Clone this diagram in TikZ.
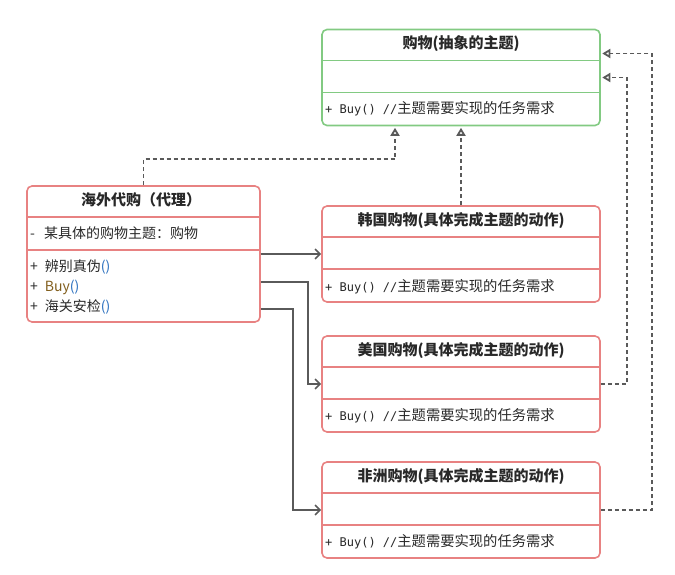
\documentclass[tikz,border=0pt]{standalone}
\usepackage{fontspec}
\usepackage{tikz}
\usetikzlibrary{arrows.meta}
\newfontfamily\cjk{Noto Sans CJK SC}
\newfontfamily\mono{DejaVu Sans Mono}
\definecolor{subjgreen}{RGB}{130,202,130}
\definecolor{realred}{RGB}{232,130,130}
\definecolor{linegray}{RGB}{90,90,90}
\definecolor{txt}{RGB}{40,40,40}
\definecolor{parblue}{RGB}{40,110,190}
\definecolor{buybrown}{RGB}{130,95,30}
\newcommand{\buyline}{{\mono\fontsize{12}{14}\selectfont + Buy() //}{\cjk\fontsize{14.3}{16}\selectfont 主题需要实现的任务需求}}

\begin{document}
\begin{tikzpicture}[x=1pt,y=-1pt,
    umlbox/.style={draw,line width=1.6pt,rounded corners=5pt,minimum width=278pt,minimum height=96pt,inner sep=0pt},
    titletext/.style={font=\cjk\bfseries\fontsize{15}{17}\selectfont,text=txt,inner sep=0pt},
    membertext/.style={anchor=west,font=\cjk\fontsize{14}{16}\selectfont,text=txt,inner sep=0pt},
    realize/.style={draw=linegray,line width=1.8pt,dash pattern=on 4pt off 3pt,shorten >=1.5pt,-{Triangle[open,length=8pt,width=9pt,line width=1.8pt]}},
    assoc/.style={draw=linegray,line width=1.6pt,-{Straight Barb[length=5pt,width=10pt,line width=1.6pt]}}]
	\useasboundingbox (0,0) rectangle (675,575);

	\node[umlbox,draw=subjgreen] (subject) at (461,77.5) {};
	\draw[subjgreen,line width=1.6pt] ([yshift=-32pt]subject.north west) -- ([yshift=-32pt]subject.north east);
	\draw[subjgreen,line width=1.6pt] ([yshift=-64pt]subject.north west) -- ([yshift=-64pt]subject.north east);
	\node[titletext] (subjtitle) at (461,44) {购物(抽象的主题)};
	\node[membertext] (subjbuy) at (325,109) {\buyline};

	\node[umlbox,draw=realred,minimum width=233pt,minimum height=136pt] (proxy) at (143.5,254) {};
	\draw[realred,line width=1.6pt] ([yshift=-32pt]proxy.north west) -- ([yshift=-32pt]proxy.north east);
	\draw[realred,line width=1.6pt] ([yshift=-65pt]proxy.north west) -- ([yshift=-65pt]proxy.north east);
	\node[titletext] (proxytitle) at (141,200) {海外代购（代理）};
	\node[membertext] (proxyattr) at (30,233) {-\hspace{9pt}某具体的购物主题：购物};
	\node[membertext] (proxycheck) at (30,267) {+\hspace{7pt}辨别真伪{\color{parblue}()}};
	\node[membertext] (proxybuy) at (30,287) {+\hspace{7pt}{\color{buybrown}Buy}{\color{parblue}()}};
	\node[membertext] (proxycustoms) at (30,307) {+\hspace{7pt}海关安检{\color{parblue}()}};

	\node[umlbox,draw=realred] (korea) at (461,254) {};
	\draw[realred,line width=1.6pt] ([yshift=-32pt]korea.north west) -- ([yshift=-32pt]korea.north east);
	\draw[realred,line width=1.6pt] ([yshift=-64pt]korea.north west) -- ([yshift=-64pt]korea.north east);
	\node[titletext] (koreatitle) at (461,220) {韩国购物(具体完成主题的动作)};
	\node[membertext] (koreabuy) at (325,287) {\buyline};

	\node[umlbox,draw=realred] (usa) at (461,384) {};
	\draw[realred,line width=1.6pt] ([yshift=-32pt]usa.north west) -- ([yshift=-32pt]usa.north east);
	\draw[realred,line width=1.6pt] ([yshift=-64pt]usa.north west) -- ([yshift=-64pt]usa.north east);
	\node[titletext] (usatitle) at (461,350) {美国购物(具体完成主题的动作)};
	\node[membertext] (usabuy) at (325,416) {\buyline};

	\node[umlbox,draw=realred] (africa) at (461,510) {};
	\draw[realred,line width=1.6pt] ([yshift=-32pt]africa.north west) -- ([yshift=-32pt]africa.north east);
	\draw[realred,line width=1.6pt] ([yshift=-64pt]africa.north west) -- ([yshift=-64pt]africa.north east);
	\node[titletext] (africatitle) at (461,476) {非洲购物(具体完成主题的动作)};
	\node[membertext] (africabuy) at (325,542) {\buyline};

	\draw[realize] (proxy.north) -- ++(0,-26) -| ([xshift=-66pt]subject.south);
	\draw[realize] (korea.north) -- (subject.south);
	\draw[realize] (usa.east) -- ++(26,0) |- (subject.east);
	\draw[realize] (africa.east) -- ++(51,0) |- ([yshift=24pt]subject.east);

	\draw[assoc] (proxy.east) -- (korea.west);
	\draw[assoc] ([yshift=-28pt]proxy.east) -- ++(47,0) |- (usa.west);
	\draw[assoc] ([yshift=-55pt]proxy.east) -- ++(32,0) |- (africa.west);
\end{tikzpicture}
\end{document}
